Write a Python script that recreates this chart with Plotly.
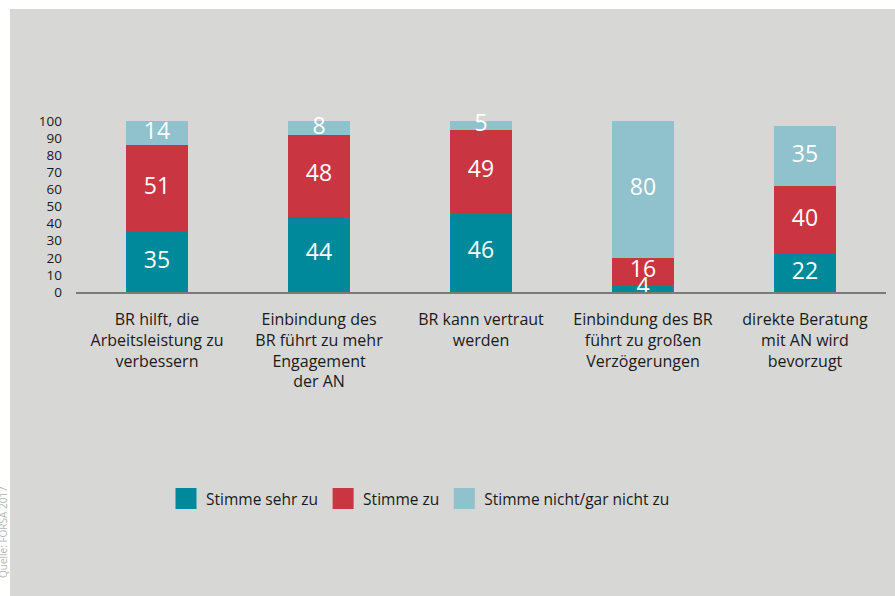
import plotly.graph_objects as go

categories = [
    "BR hilft, die<br>Arbeitsleistung zu<br>verbessern",
    "Einbindung des<br>BR führt zu mehr<br>Engagement<br>der AN",
    "BR kann vertraut<br>werden",
    "Einbindung des BR<br>führt zu großen<br>Verzögerungen",
    "direkte Beratung<br>mit AN wird<br>bevorzugt",
]
stimme_sehr_zu = [35, 44, 46, 4, 22]
stimme_zu = [51, 48, 49, 16, 40]
stimme_nicht = [14, 8, 5, 80, 35]
series_names = ["Stimme sehr zu", "Stimme zu", "Stimme nicht/gar nicht zu"]
colors = ["#00899a", "#c93642", "#8fc2cc"]
y_ticks = list(range(0, 101, 10))

FONT = "Open Sans"
W, H = 895, 596
L, R, T, B = 76, 9, 121, 304
pw, ph = W - L - R, H - T - B


def px_x(px):
    return (px - L) / pw


def px_y(py):
    return (H - B - py) / ph


fig = go.Figure()
xs = list(range(len(categories)))
series = [stimme_sehr_zu, stimme_zu, stimme_nicht]
base = [0] * len(xs)
label_traces = []
for name, vals, col in zip(series_names, series, colors):
    fig.add_trace(go.Bar(
        x=xs, y=vals, name=name, marker=dict(color=col, line=dict(width=0)),
        width=0.38, showlegend=False, hoverinfo="skip",
    ))
    mids = [b + v / 2 for b, v in zip(base, vals)]
    label_traces.append(go.Scatter(
        x=xs, y=mids, mode="text", text=[str(v) for v in vals],
        textposition="middle center", cliponaxis=False,
        textfont=dict(family=FONT, size=23, color="white"),
        showlegend=False, hoverinfo="skip",
    ))
    base = [b + v for b, v in zip(base, vals)]
    fig.add_trace(go.Scatter(
        x=[None], y=[None], name=name, mode="markers",
        marker=dict(symbol="square", size=16, color=col, line=dict(color=col, width=5)),
        showlegend=True,
    ))
for t in label_traces:
    fig.add_trace(t)

fig.update_layout(
    width=W, height=H,
    margin=dict(l=L, r=R, t=T, b=B, pad=0),
    paper_bgcolor="#d7d7d6", plot_bgcolor="rgba(0,0,0,0)",
    barmode="stack",
    font=dict(family=FONT, color="#1a1a1a"),
    xaxis=dict(
        range=[-0.5, 4.5], tickmode="array", tickvals=xs, ticktext=categories,
        showgrid=False, zeroline=False, showline=True, linecolor="#7a7a7a", linewidth=1.5,
        ticks="", tickfont=dict(family=FONT, size=16, color="#1a1a1a"),
        ticklabelstandoff=12, fixedrange=True,
    ),
    yaxis=dict(
        range=[0, 100], tickmode="array", tickvals=y_ticks,
        showgrid=False, zeroline=False, showline=False, ticks="",
        tickfont=dict(family=FONT, size=13.5, color="#1a1a1a"),
        ticklabelstandoff=13, fixedrange=True,
    ),
    legend=dict(
        orientation="h", traceorder="normal",
        x=px_x(166), xanchor="left", y=px_y(499), yanchor="middle",
        font=dict(family=FONT, size=15.5, color="#1a1a1a"),
        bgcolor="rgba(0,0,0,0)", itemclick=False, itemdoubleclick=False,
    ),
    shapes=[
        dict(type="rect", xref="paper", yref="paper", layer="below",
             x0=px_x(0), x1=px_x(W), y0=px_y(9), y1=px_y(0),
             fillcolor="white", line=dict(width=0)),
        dict(type="rect", xref="paper", yref="paper", layer="below",
             x0=px_x(0), x1=px_x(10), y0=px_y(H), y1=px_y(0),
             fillcolor="white", line=dict(width=0)),
    ],
    annotations=[
        dict(text="Quelle: FORSA 2017", xref="paper", yref="paper",
             x=px_x(3), y=px_y(484), xanchor="center", yanchor="top",
             textangle=-90, showarrow=False,
             font=dict(family=FONT, size=10, color="#b5b5b5")),
    ],
)

fig.write_html("out.html", config={"displayModeBar": False},
               post_script="document.body.style.margin='0';")
